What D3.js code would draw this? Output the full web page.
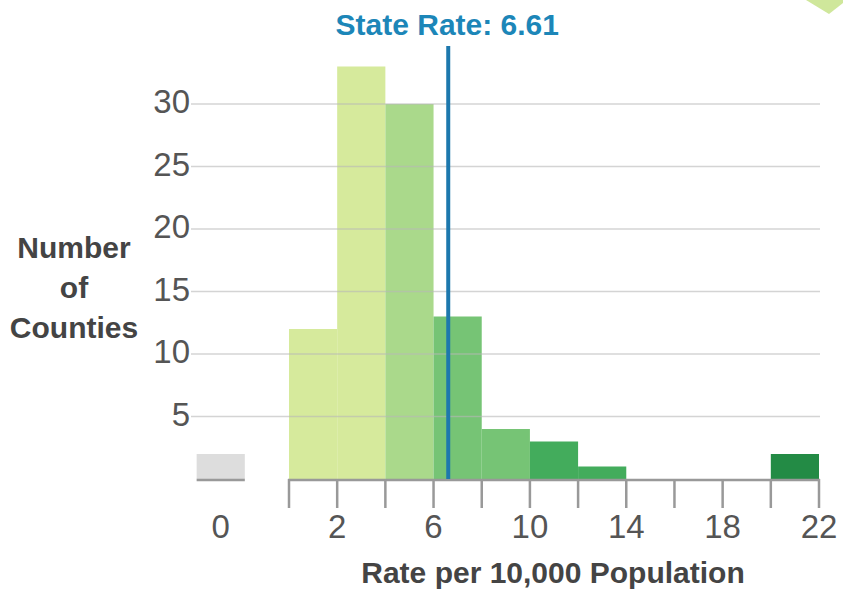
<!DOCTYPE html>
<html>
<head>
<meta charset="utf-8">
<script src="https://cdn.jsdelivr.net/npm/d3@7"></script>
<style>
  html, body { margin: 0; padding: 0; background: #fff; }
  svg { display: block; font-family: "Liberation Sans", Arial, Helvetica, sans-serif; }
</style>
</head>
<body>
<svg id="chart" width="843" height="590"></svg>
<script>
// ---- data ----
const binStarts = [0, 2, 4, 6, 8, 10, 12, 14, 16, 18, 20];
const binWidth = 2;
const counts = [12, 33, 30, 13, 4, 3, 1, 0, 0, 0, 2];
const binColors = ["#d6ea9c", "#d6ea9c", "#aad98b", "#76c475", "#76c475", "#43ac5c", "#43ac5c", "#43ac5c", "#2a9a4c", "#2a9a4c", "#238b45"];
const zeroCount = 2;          // counties with rate 0
const stateRate = 6.61;
const yTicks = [5, 10, 15, 20, 25, 30];
const xTickValues = [0, 2, 4, 6, 8, 10, 12, 14, 16, 18, 20, 22];
const xTickLabels = [2, 6, 10, 14, 18, 22];
const yTitleLines = ["Number", "of", "Counties"];
const xTitle = "Rate per 10,000 Population";
const rateTitle = "State Rate: 6.61";

// ---- scales ----
const svg = d3.select("#chart");
const x = d3.scaleLinear().domain([0, 22]).range([289, 819]);
const y = d3.scaleLinear().domain([0, 30]).range([479, 104]);
const bw = x(binWidth) - x(0);
const zeroX = x(0) - 2 * bw + 4; // separate "0" category box left of the axis

// decorative shape at top-right
svg.append("polygon")
  .attr("points", "806,0 843,0 843,3 829,14")
  .attr("fill", "#cfe79b");

// bars
svg.append("g").selectAll("rect")
  .data(binStarts.map((s, i) => ({ s, c: counts[i], col: binColors[i] })).filter(d => d.c > 0))
  .join("rect")
  .attr("x", d => x(d.s))
  .attr("width", bw)
  .attr("y", d => y(d.c))
  .attr("height", d => y(0) - y(d.c))
  .attr("fill", d => d.col);

// zero box
svg.append("rect")
  .attr("x", zeroX).attr("width", bw)
  .attr("y", y(zeroCount)).attr("height", y(0) - y(zeroCount))
  .attr("fill", "#dddddd");
svg.append("line")
  .attr("x1", zeroX).attr("x2", zeroX + bw)
  .attr("y1", y(0) + 1).attr("y2", y(0) + 1)
  .attr("stroke", "#999").attr("stroke-width", 2.5);

// gridlines (drawn over bars, faint)
svg.append("g").selectAll("line")
  .data(yTicks).join("line")
  .attr("x1", 191).attr("x2", 820)
  .attr("y1", d => y(d)).attr("y2", d => y(d))
  .attr("stroke", "#b8b8b8").attr("stroke-opacity", 0.6).attr("stroke-width", 1.5);

// y labels
svg.append("g").selectAll("text")
  .data(yTicks).join("text")
  .attr("x", 190).attr("y", d => y(d) + 9)
  .attr("text-anchor", "end")
  .attr("font-size", 33).attr("fill", "#555")
  .text(d => d);

// x axis line and ticks
svg.append("line")
  .attr("x1", x(0) - 1).attr("x2", x(22) + 1)
  .attr("y1", y(0) + 1).attr("y2", y(0) + 1)
  .attr("stroke", "#999").attr("stroke-width", 2.5);
svg.append("g").selectAll("line")
  .data(xTickValues).join("line")
  .attr("x1", d => x(d)).attr("x2", d => x(d))
  .attr("y1", y(0)).attr("y2", 508)
  .attr("stroke", "#999").attr("stroke-width", 2.5);

// x labels
svg.append("g").selectAll("text")
  .data(xTickLabels).join("text")
  .attr("x", d => x(d)).attr("y", 538)
  .attr("text-anchor", "middle")
  .attr("font-size", 33).attr("fill", "#555")
  .text(d => d);
svg.append("text")
  .attr("x", zeroX + bw / 2).attr("y", 538)
  .attr("text-anchor", "middle")
  .attr("font-size", 33).attr("fill", "#555")
  .text("0");

// state rate line
svg.append("line")
  .attr("x1", x(stateRate)).attr("x2", x(stateRate))
  .attr("y1", 46).attr("y2", y(0))
  .attr("stroke", "#1d78ad").attr("stroke-width", 4);
svg.append("text")
  .attr("x", x(stateRate) - 1).attr("y", 35)
  .attr("text-anchor", "middle")
  .attr("font-size", 30).attr("font-weight", "bold").attr("fill", "#1c86b8")
  .text(rateTitle);

// y title
svg.append("text")
  .attr("text-anchor", "middle")
  .attr("font-size", 30).attr("font-weight", "bold").attr("fill", "#444")
  .selectAll("tspan").data(yTitleLines).join("tspan")
  .attr("x", 74).attr("y", (d, i) => 258 + i * 40)
  .text(d => d);

// x title
svg.append("text")
  .attr("x", 553).attr("y", 583)
  .attr("text-anchor", "middle")
  .attr("font-size", 30).attr("font-weight", "bold").attr("fill", "#444")
  .text(xTitle);
</script>
</body>
</html>
